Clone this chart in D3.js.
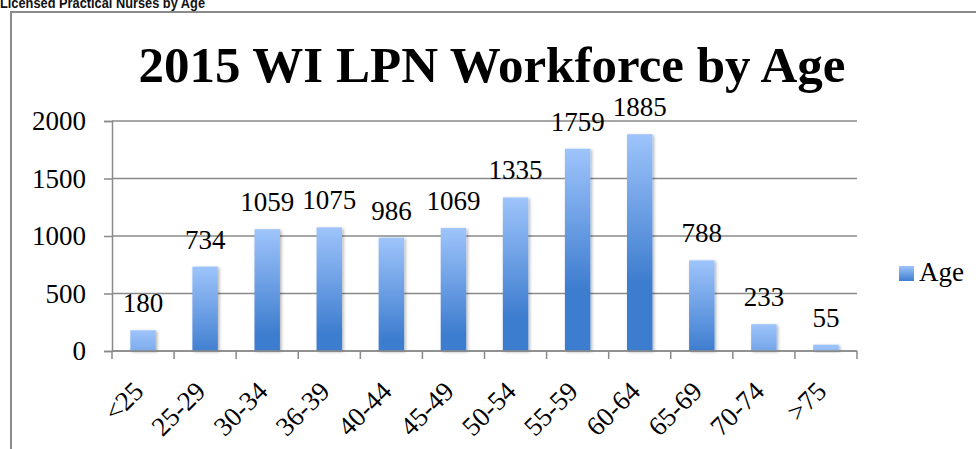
<!DOCTYPE html>
<html>
<head>
<meta charset="utf-8">
<script src="https://cdn.jsdelivr.net/npm/d3@7"></script>
<style>
  html, body { margin: 0; padding: 0; background: #fff; overflow: hidden; }
  svg { display: block; }
  .serif { font-family: "Liberation Serif", "DejaVu Serif", serif; }
</style>
</head>
<body>
<div id="chart"></div>
<script>
const categories = ["<25", "25-29", "30-34", "36-39", "40-44", "45-49", "50-54", "55-59", "60-64", "65-69", "70-74", ">75"];
const counts = [180, 734, 1059, 1075, 986, 1069, 1335, 1759, 1885, 788, 233, 55];
const yTicks = [0, 500, 1000, 1500, 2000];
const seriesName = "Age";
const chartTitle = "2015 WI LPN Workforce by Age";
const pageHeading = "Licensed Practical Nurses by Age";

const width = 976;
const height = 449;
const plotLeft = 112, plotRight = 857, plotTop = 121, plotBottom = 351;

const svg = d3.select("#chart")
    .append("svg")
    .attr("width", width)
    .attr("height", height);

const defs = svg.append("defs");

defs.append("filter")
    .attr("id", "shadow")
    .attr("x", "-30%").attr("y", "-30%")
    .attr("width", "160%").attr("height", "160%")
    .append("feDropShadow")
    .attr("dx", 1.5).attr("dy", 1)
    .attr("stdDeviation", 1.5)
    .attr("flood-color", "#000")
    .attr("flood-opacity", 0.3);

const x = d3.scaleBand()
    .domain(categories)
    .range([plotLeft, plotRight])
    .paddingInner(0.59)
    .paddingOuter(0.295);

const y = d3.scaleLinear()
    .domain([0, 2000])
    .range([plotBottom, plotTop]);

// page heading above the chart, its top is cut by the picture edge
svg.append("text")
    .attr("x", 0)
    .attr("y", 8)
    .attr("font-family", "'Liberation Sans', Arial, sans-serif")
    .attr("font-weight", "bold")
    .attr("font-size", 15)
    .attr("textLength", 205)
    .attr("lengthAdjust", "spacingAndGlyphs")
    .attr("fill", "#111")
    .text(pageHeading);

// chart frame
svg.append("path")
    .attr("d", `M11,${height + 5}V12H${width + 5}`)
    .attr("fill", "none")
    .attr("stroke", "#8a8a8a")
    .attr("stroke-width", 2);

// title
svg.append("text")
    .attr("class", "serif")
    .attr("x", 492)
    .attr("y", 82)
    .attr("text-anchor", "middle")
    .attr("font-weight", "bold")
    .attr("font-size", 51)
    .attr("fill", "#000")
    .text(chartTitle);

// gridlines
svg.append("g")
    .selectAll("line")
    .data(yTicks)
    .enter().append("line")
    .attr("x1", plotLeft)
    .attr("x2", plotRight)
    .attr("y1", d => y(d))
    .attr("y2", d => y(d))
    .attr("stroke", "#8a8a8a")
    .attr("stroke-width", 1.5);

// y axis
const yAxis = svg.append("g")
    .attr("transform", `translate(${plotLeft},0)`)
    .call(d3.axisLeft(y).tickValues(yTicks).tickSize(8).tickPadding(18).tickFormat(d3.format("d")));
yAxis.select(".domain").attr("stroke", "#8a8a8a").attr("stroke-width", 1.5);
yAxis.selectAll(".tick line").attr("stroke", "#8a8a8a").attr("stroke-width", 1.5);
yAxis.selectAll(".tick text")
    .attr("class", "serif")
    .attr("font-size", 27)
    .attr("fill", "#000");

// x axis ticks at category boundaries
const step = x.step();
const bounds = d3.range(categories.length + 1).map(i => x(categories[0]) - step * x.paddingOuter() + i * step);
svg.append("g")
    .selectAll("line")
    .data(bounds)
    .enter().append("line")
    .attr("x1", d => d).attr("x2", d => d)
    .attr("y1", plotBottom).attr("y2", plotBottom + 8)
    .attr("stroke", "#8a8a8a")
    .attr("stroke-width", 1.5);

// bar gradients: light at top, darkening downwards
counts.forEach((v, i) => {
    const h = plotBottom - y(v);
    const g = defs.append("linearGradient")
        .attr("id", "grad" + i)
        .attr("gradientUnits", "userSpaceOnUse")
        .attr("x1", 0).attr("x2", 0)
        .attr("y1", y(v)).attr("y2", y(v) + 50 + 0.45 * h);
    g.append("stop").attr("offset", "0%").attr("stop-color", "#9ec4fb");
    g.append("stop").attr("offset", "100%").attr("stop-color", "#3e7dcf");
});

// bars
svg.append("g")
    .selectAll("rect")
    .data(counts)
    .enter().append("rect")
    .attr("x", (d, i) => x(categories[i]))
    .attr("y", d => y(d))
    .attr("width", x.bandwidth())
    .attr("height", d => plotBottom - y(d))
    .attr("fill", (d, i) => `url(#grad${i})`)
    .attr("filter", "url(#shadow)");

// x axis line drawn over the bars
svg.append("line")
    .attr("x1", plotLeft).attr("x2", plotRight)
    .attr("y1", plotBottom).attr("y2", plotBottom)
    .attr("stroke", "#8a8a8a")
    .attr("stroke-width", 1.5);

// data labels
svg.append("g")
    .selectAll("text")
    .data(counts)
    .enter().append("text")
    .attr("class", "serif")
    .attr("x", (d, i) => x(categories[i]) + x.bandwidth() / 2)
    .attr("y", d => y(d) - 18)
    .attr("text-anchor", "middle")
    .attr("font-size", 27)
    .attr("fill", "#000")
    .text(d => d);

// x labels, rotated
svg.append("g")
    .selectAll("text")
    .data(categories)
    .enter().append("text")
    .attr("class", "serif")
    .attr("transform", d => `translate(${x(d) + x.bandwidth() / 2 + 2},${plotBottom + 42}) rotate(-45)`)
    .attr("text-anchor", "end")
    .attr("font-size", 27)
    .attr("fill", "#000")
    .text(d => d);

// legend
const legend = svg.append("g").attr("transform", "translate(899,266)");
const lg = defs.append("linearGradient")
    .attr("id", "legendGrad")
    .attr("x1", 0).attr("x2", 0).attr("y1", 0).attr("y2", 1);
lg.append("stop").attr("offset", "0%").attr("stop-color", "#9ec4fb");
lg.append("stop").attr("offset", "100%").attr("stop-color", "#3e7dcf");
legend.append("rect")
    .attr("width", 15).attr("height", 15)
    .attr("fill", "url(#legendGrad)");
legend.append("text")
    .attr("class", "serif")
    .attr("x", 20)
    .attr("y", 15)
    .attr("font-size", 27)
    .attr("fill", "#000")
    .text(seriesName);
</script>
</body>
</html>
